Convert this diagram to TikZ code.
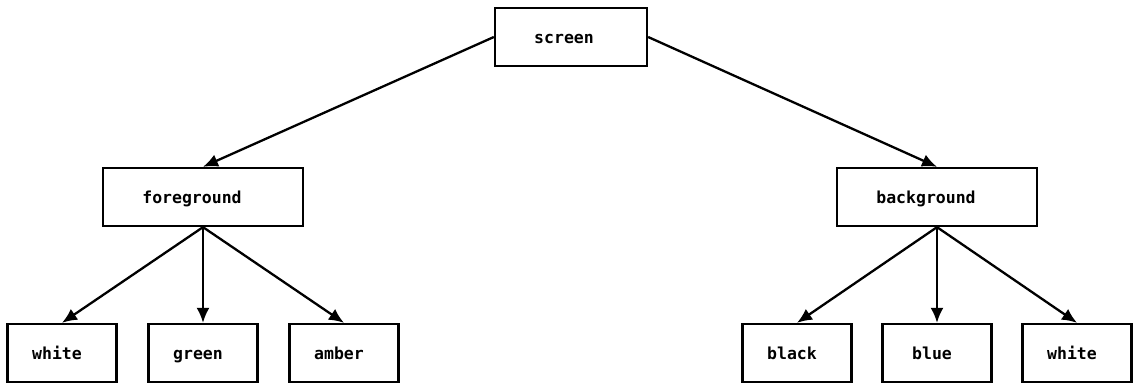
\documentclass[tikz,border=0pt]{standalone}
\usepackage{fontspec}
\setmonofont{DejaVu Sans Mono}
\usetikzlibrary{arrows.meta}

\tikzset{
  box/.style={draw, line width=2.3pt, inner sep=0pt, minimum height=58pt,
    text height=13pt, text depth=0pt,
    font=\ttfamily\bfseries\fontsize{16.5}{19}\selectfont,
    execute at end node={\hspace*{#1}}},
  box/.default=10pt,
  leaf/.style={box=10pt, minimum width=109pt},
  mid/.style={box=22pt, minimum width=200pt}
}

\begin{document}
\begin{tikzpicture}[>={Latex[length=15pt,width=13pt]}, x=1pt, y=-1pt, line width=2.3pt]
  \useasboundingbox (0,0) rectangle (1138,385);

  \node[box=14pt, minimum width=152pt] (screen) at (571,37) {screen};
  \node[mid] (fg) at (203,197) {foreground};
  \node[mid] (bg) at (937,197) {background};

  \draw[->] (screen.west) -- (fg.north);
  \draw[->] (screen.east) -- (bg.north);

  \foreach \name/\x/\txt in {fgw/62/white, fgg/203/green, fga/344/amber} {
    \node[leaf] (\name) at (\x,353) {\txt};
    \draw[->] (fg.south) -- (\name.north);
  }

  \foreach \name/\x/\txt in {bgk/797/black, bgb/937/blue, bgw/1077/white} {
    \node[leaf] (\name) at (\x,353) {\txt};
    \draw[->] (bg.south) -- (\name.north);
  }
\end{tikzpicture}
\end{document}
